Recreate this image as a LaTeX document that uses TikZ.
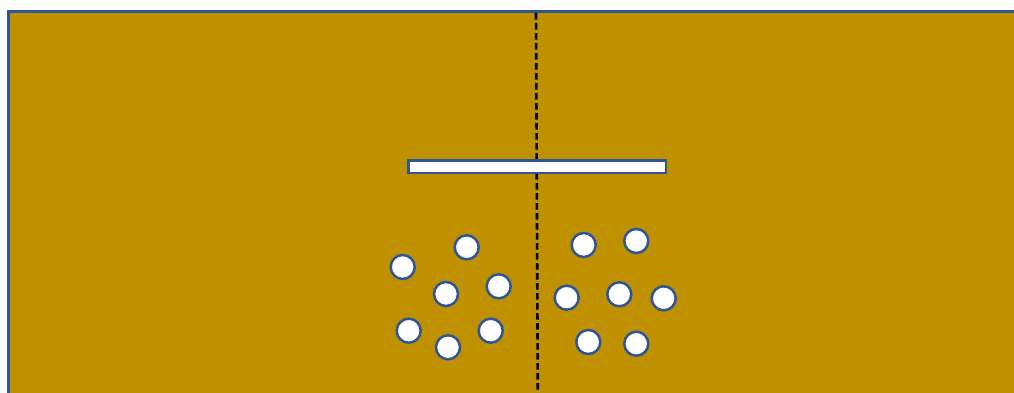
\documentclass[tikz,border=0pt]{standalone}
\begin{document}
\begin{tikzpicture}[x=1pt,y=-1pt,
  bg/.style={fill=gold,draw=edgeblue,line width=3pt},
  divider/.style={draw=black,line width=2.6pt,dash pattern=on 6.5pt off 3.5pt},
  barbox/.style={fill=white,draw=edgeblue,line width=2.6pt},
  ball/.style={circle,fill=white,draw=edgeblue,line width=2.5pt,minimum size=24pt,inner sep=0pt}]
\definecolor{gold}{HTML}{BF9000}
\definecolor{edgeblue}{HTML}{2F5597}
\useasboundingbox (0,0) rectangle (1014,392);
\path[bg] (8.5,11) rectangle (1030,410);
\coordinate (dtop) at (536,13);
\coordinate (dbot) at (537.8,392);
\draw[divider] (dtop) -- (dbot);
\path[barbox] (408.5,160.5) rectangle (666,173);
\node[ball] (b1) at (466.7,247.3) {};
\node[ball] (b2) at (402.7,267) {};
\node[ball] (b3) at (446,294) {};
\node[ball] (b4) at (498.7,286.3) {};
\node[ball] (b5) at (408.7,330.7) {};
\node[ball] (b6) at (448,347.3) {};
\node[ball] (b7) at (490.7,330.7) {};
\node[ball] (b8) at (583.7,245) {};
\node[ball] (b9) at (636.3,241) {};
\node[ball] (b10) at (566.7,297.7) {};
\node[ball] (b11) at (619.3,294.3) {};
\node[ball] (b12) at (663.7,298.3) {};
\node[ball] (b13) at (588.3,342) {};
\node[ball] (b14) at (636.3,343.7) {};
\end{tikzpicture}
\end{document}
